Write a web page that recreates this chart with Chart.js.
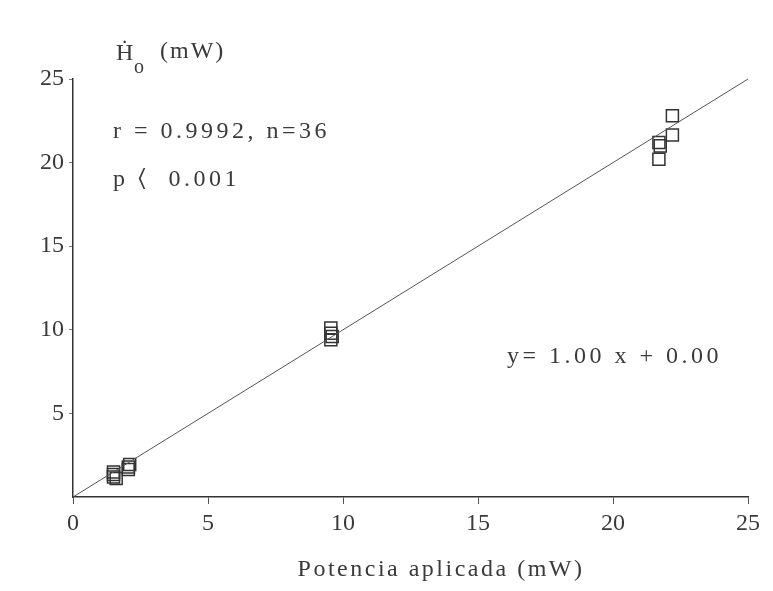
<!DOCTYPE html>
<html>
<head>
<meta charset="utf-8">
<script src="https://cdn.jsdelivr.net/npm/chart.js@4/dist/chart.umd.min.js"></script>
<style>
  html, body { margin: 0; padding: 0; background: #ffffff; }
  #wrap { width: 773px; height: 591px; }
</style>
</head>
<body>
<div id="wrap"><canvas id="c" width="773" height="591"></canvas></div>
<script>
// Applied power (mW) and measured heat flow (mW) for each calibration run
const appliedPower = [1.5, 1.5, 1.5, 1.6, 2.05, 2.05, 2.1, 9.55, 9.55, 9.55, 9.6, 21.7, 21.7, 21.75, 22.2, 22.2];
const measuredHeat = [1.2, 1.35, 1.5, 1.1, 1.65, 1.8, 1.95, 10.1, 9.8, 9.4, 9.6, 21.2, 20.2, 21.0, 21.65, 22.8];

// Axis ticks
const xTickValues = [0, 5, 10, 15, 20, 25];
const yTickValues = [5, 10, 15, 20, 25];

// Least-squares fit and its statistics
const fitSlope = 1.00;
const fitIntercept = 0.00;
const fitRange = [0, 25];
const statsLines = ['r = 0.9992, n=36', 'p \u2329  0.001'];
const equationText = 'y= 1.00 x + 0.00';
const xTitle = 'Potencia aplicada (mW)';

const ink = '#3a3a3a';
const fontFamily = '"Liberation Serif", "DejaVu Serif", serif';

const points = appliedPower.map((x, i) => ({ x: x, y: measuredHeat[i] }));
const fitLine = fitRange.map(x => ({ x: x, y: fitSlope * x + fitIntercept }));

const textPlugin = {
  id: 'annotations',
  afterDraw(chart) {
    const ctx = chart.ctx;
    ctx.save();
    ctx.fillStyle = ink;
    ctx.textBaseline = 'alphabetic';
    ctx.textAlign = 'left';
    ctx.letterSpacing = '2px';
    ctx.font = '24px ' + fontFamily;
    // y-axis title: H with dot, subscript o, unit
    ctx.fillText('\u1E22', 116, 60);
    ctx.font = '20px ' + fontFamily;
    ctx.fillText('o', 134, 73);
    ctx.font = '24px ' + fontFamily;
    ctx.fillText('(mW)', 160, 58);
    // statistics
    ctx.letterSpacing = '3.5px';
    ctx.fillText(statsLines[0], 113, 138);
    ctx.fillText(statsLines[1], 113, 186);
    // fitted equation
    ctx.fillText(equationText, 507, 363);
    // x-axis title
    ctx.letterSpacing = '2.5px';
    ctx.textAlign = 'center';
    ctx.fillText(xTitle, 441, 576);
    ctx.restore();
  }
};

new Chart(document.getElementById('c'), {
  type: 'scatter',
  data: {
    datasets: [
      {
        label: 'fit',
        data: fitLine,
        showLine: true,
        borderColor: '#555555',
        borderWidth: 1,
        pointRadius: 0,
        clip: false
      },
      {
        label: 'runs',
        data: points,
        pointStyle: 'rect',
        pointRadius: 8.5,
        pointBorderWidth: 1.5,
        pointBorderColor: '#333333',
        pointBackgroundColor: 'rgba(255,255,255,0)'
      }
    ]
  },
  options: {
    responsive: false,
    animation: false,
    events: [],
    layout: { padding: { top: 79, right: 25, bottom: 0, left: 0 } },
    plugins: { legend: { display: false }, tooltip: { enabled: false } },
    scales: {
      x: {
        type: 'linear',
        min: 0,
        max: 25,
        afterBuildTicks(scale) { scale.ticks = xTickValues.map(v => ({ value: v })); },
        afterFit(scale) { scale.height = 94; },
        grid: { display: true, drawOnChartArea: false, drawTicks: true, tickLength: 7, color: '#555555', lineWidth: 1 },
        border: { display: true, color: '#333333', width: 1.5 },
        ticks: { color: ink, padding: 5, font: { family: fontFamily, size: 24 } }
      },
      y: {
        type: 'linear',
        min: 0,
        max: 25,
        afterBuildTicks(scale) { scale.ticks = yTickValues.map(v => ({ value: v })); },
        afterFit(scale) { scale.width = 73; },
        grid: { display: true, drawOnChartArea: false, drawTicks: true, tickLength: 4, color: '#777777', lineWidth: 1 },
        border: { display: true, color: '#333333', width: 1.5 },
        ticks: { color: ink, padding: 5, font: { family: fontFamily, size: 24 } }
      }
    }
  },
  plugins: [textPlugin]
});
</script>
</body>
</html>
